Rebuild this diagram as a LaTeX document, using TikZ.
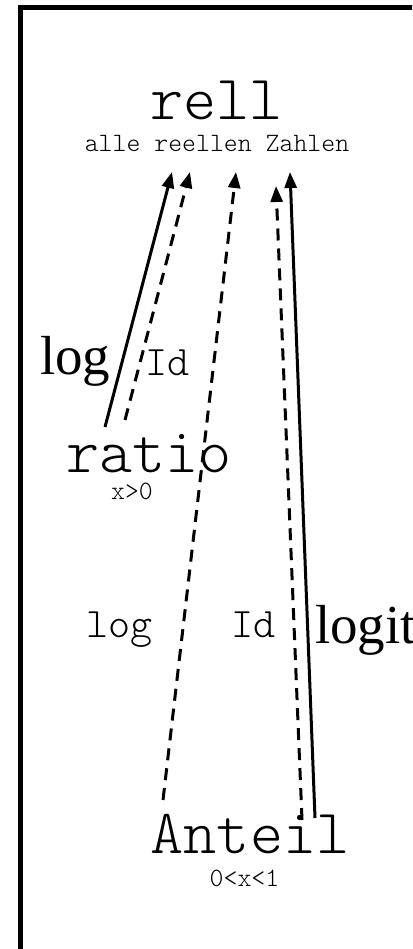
\documentclass[tikz,border=0pt]{standalone}
\usepackage{fontspec}
\setmainfont{Liberation Serif}
\setmonofont{Latin Modern Mono Light}
\usetikzlibrary{arrows.meta}
\tikzset{
  lbl/.style={inner sep=0pt, outer sep=0pt, anchor=base},
  big/.style={lbl, font=\fontsize{63}{63}\selectfont\ttfamily},
  small/.style={lbl, font=\fontsize{26.5}{26.5}\selectfont\ttfamily},
  midmono/.style={lbl, anchor=base west, font=\fontsize{42}{42}\selectfont\ttfamily},
  midserif/.style={lbl, anchor=base west, font=\fontsize{55}{55}\selectfont\rmfamily},
  arr/.style={line width=3pt, -{Triangle[length=16pt,width=12pt]}},
  solidarr/.style={arr},
  dasharr/.style={arr, dash pattern=on 12pt off 8pt},
}
\begin{document}
\begin{tikzpicture}[x=1pt,y=-1pt]
\clip (0,0) rectangle (412,949);
\useasboundingbox (0,0) rectangle (412,949);
\fill[white] (0,0) rectangle (412,949);
% frame
\draw[line width=5pt] (20.8,960) -- (20.8,7.5) -- (420,7.5);
% main nodes
\node[big] (rell) at (216.5,120) {rell};
\node[small] (rellsub) at (217,152) {alle reellen Zahlen};
\node[big] (ratio) at (149,472) {ratio};
\node[small] (ratiosub) at (132,499) {x>0};
\node[big] (anteil) at (250,853) {Anteil};
\node[small] (anteilsub) at (244.5,886) {0<x<1};
% labels
\node[midserif] (logA) at (40,374) {log};
\node[midmono] (idA) at (145,375) {Id};
\node[midmono] (logB) at (86,637) {log};
\node[midmono] (idB) at (231,637) {Id};
\node[midserif] (logit) at (315,643) {logit};
% connector end points
\coordinate (s1) at (105,427);
\coordinate (t1) at (172,172);
\coordinate (s2) at (125,420);
\coordinate (t2) at (190,172);
\coordinate (s3) at (163,800);
\coordinate (t3) at (236,172);
\coordinate (s4) at (302,820);
\coordinate (t4) at (276,186);
\coordinate (s5) at (315,818);
\coordinate (t5) at (290,172);
\draw[solidarr] (s1) -- (t1);
\draw[dasharr] (s2) -- (t2);
\draw[dasharr] (s3) -- (t3);
\draw[dasharr] (s4) -- (t4);
\draw[solidarr] (s5) -- (t5);
\end{tikzpicture}
\end{document}
